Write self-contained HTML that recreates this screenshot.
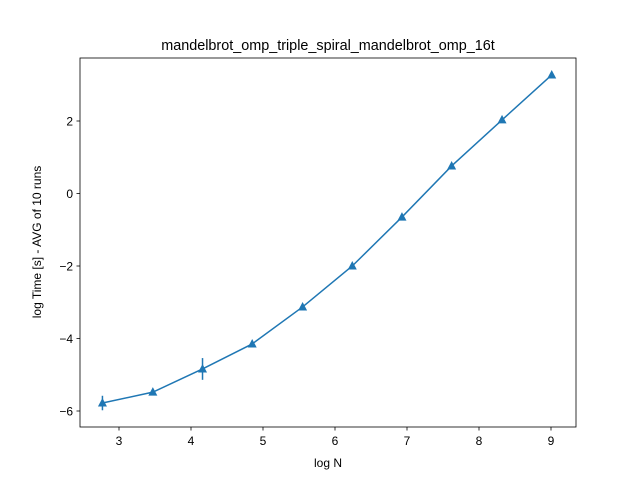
<!DOCTYPE html>
<html><head><meta charset="utf-8"><style>
body{margin:0;background:#fff}
svg text{font-family:"Liberation Sans","DejaVu Sans",sans-serif;fill:#000}
</style></head><body>
<svg width="640" height="480">
<rect x="0" y="0" width="640" height="480" fill="#fff"/>
<g id="plot"></g>
<rect x="80" y="58" width="496" height="369" fill="none" stroke="#000" stroke-width="0.8"/>
<text x="328" y="50" font-size="14.4" text-anchor="middle">mandelbrot_omp_triple_spiral_mandelbrot_omp_16t</text>
<text x="328" y="467" font-size="12" text-anchor="middle">log N</text>
<text transform="translate(41,242) rotate(-90)" font-size="12" text-anchor="middle">log Time  [s] - AVG of 10 runs</text>
</svg>
<script>
const xs=[2.77,3.47,4.16,4.85,5.55,6.24,6.93,7.62,8.32,9.01];
const ys=[-5.78,-5.48,-4.84,-4.15,-3.13,-2.0,-0.65,0.76,2.03,3.27];
const errs=[0.2,0.06,0.3,0.04,0.03,0.03,0.03,0.03,0.03,0.03];
const xTicks=[3,4,5,6,7,8,9];
const yTicks=[-6,-4,-2,0,2];
const X=v=>119+(v-3)*72;
const Y=v=>193.5-v*36.25;
const ns="http://www.w3.org/2000/svg";
const g=document.getElementById('plot');
function mk(t,a){const e=document.createElementNS(ns,t);for(const k in a)e.setAttribute(k,a[k]);g.appendChild(e);return e;}
xTicks.forEach(t=>{
 const l=mk('line',{x1:X(t),x2:X(t),y1:427,y2:430.5,stroke:'#000','stroke-width':0.8});
 
 
 const tx=mk('text',{x:X(t),y:445,'font-size':12,'text-anchor':'middle'});tx.textContent=t;
 
 
});
yTicks.forEach(t=>{
 const l=mk('line',{x1:76.5,x2:80,y1:Y(t),y2:Y(t),stroke:'#000','stroke-width':0.8});
 
 
 const tx=mk('text',{x:73,y:Y(t)+4.5,'font-size':12,'text-anchor':'end'});tx.textContent=(t<0?'\u2212'+(-t):t);
 
 
});
const line=mk('polyline',{points:xs.map((x,i)=>X(x)+','+Y(ys[i])).join(' '),fill:'none',stroke:'#1f77b4','stroke-width':1.5});


xs.forEach((x,i)=>{
 const e=mk('line',{x1:X(x),x2:X(x),y1:Y(ys[i]+errs[i]),y2:Y(ys[i]-errs[i]),stroke:'#1f77b4','stroke-width':1.5});
 
 
 const cx=X(x),cy=Y(ys[i]);
 const m=mk('polygon',{points:`${cx},${cy-5} ${cx-4.5},${cy+3.5} ${cx+4.5},${cy+3.5}`,fill:'#1f77b4'});
 
 
});
</script>
</body></html>
